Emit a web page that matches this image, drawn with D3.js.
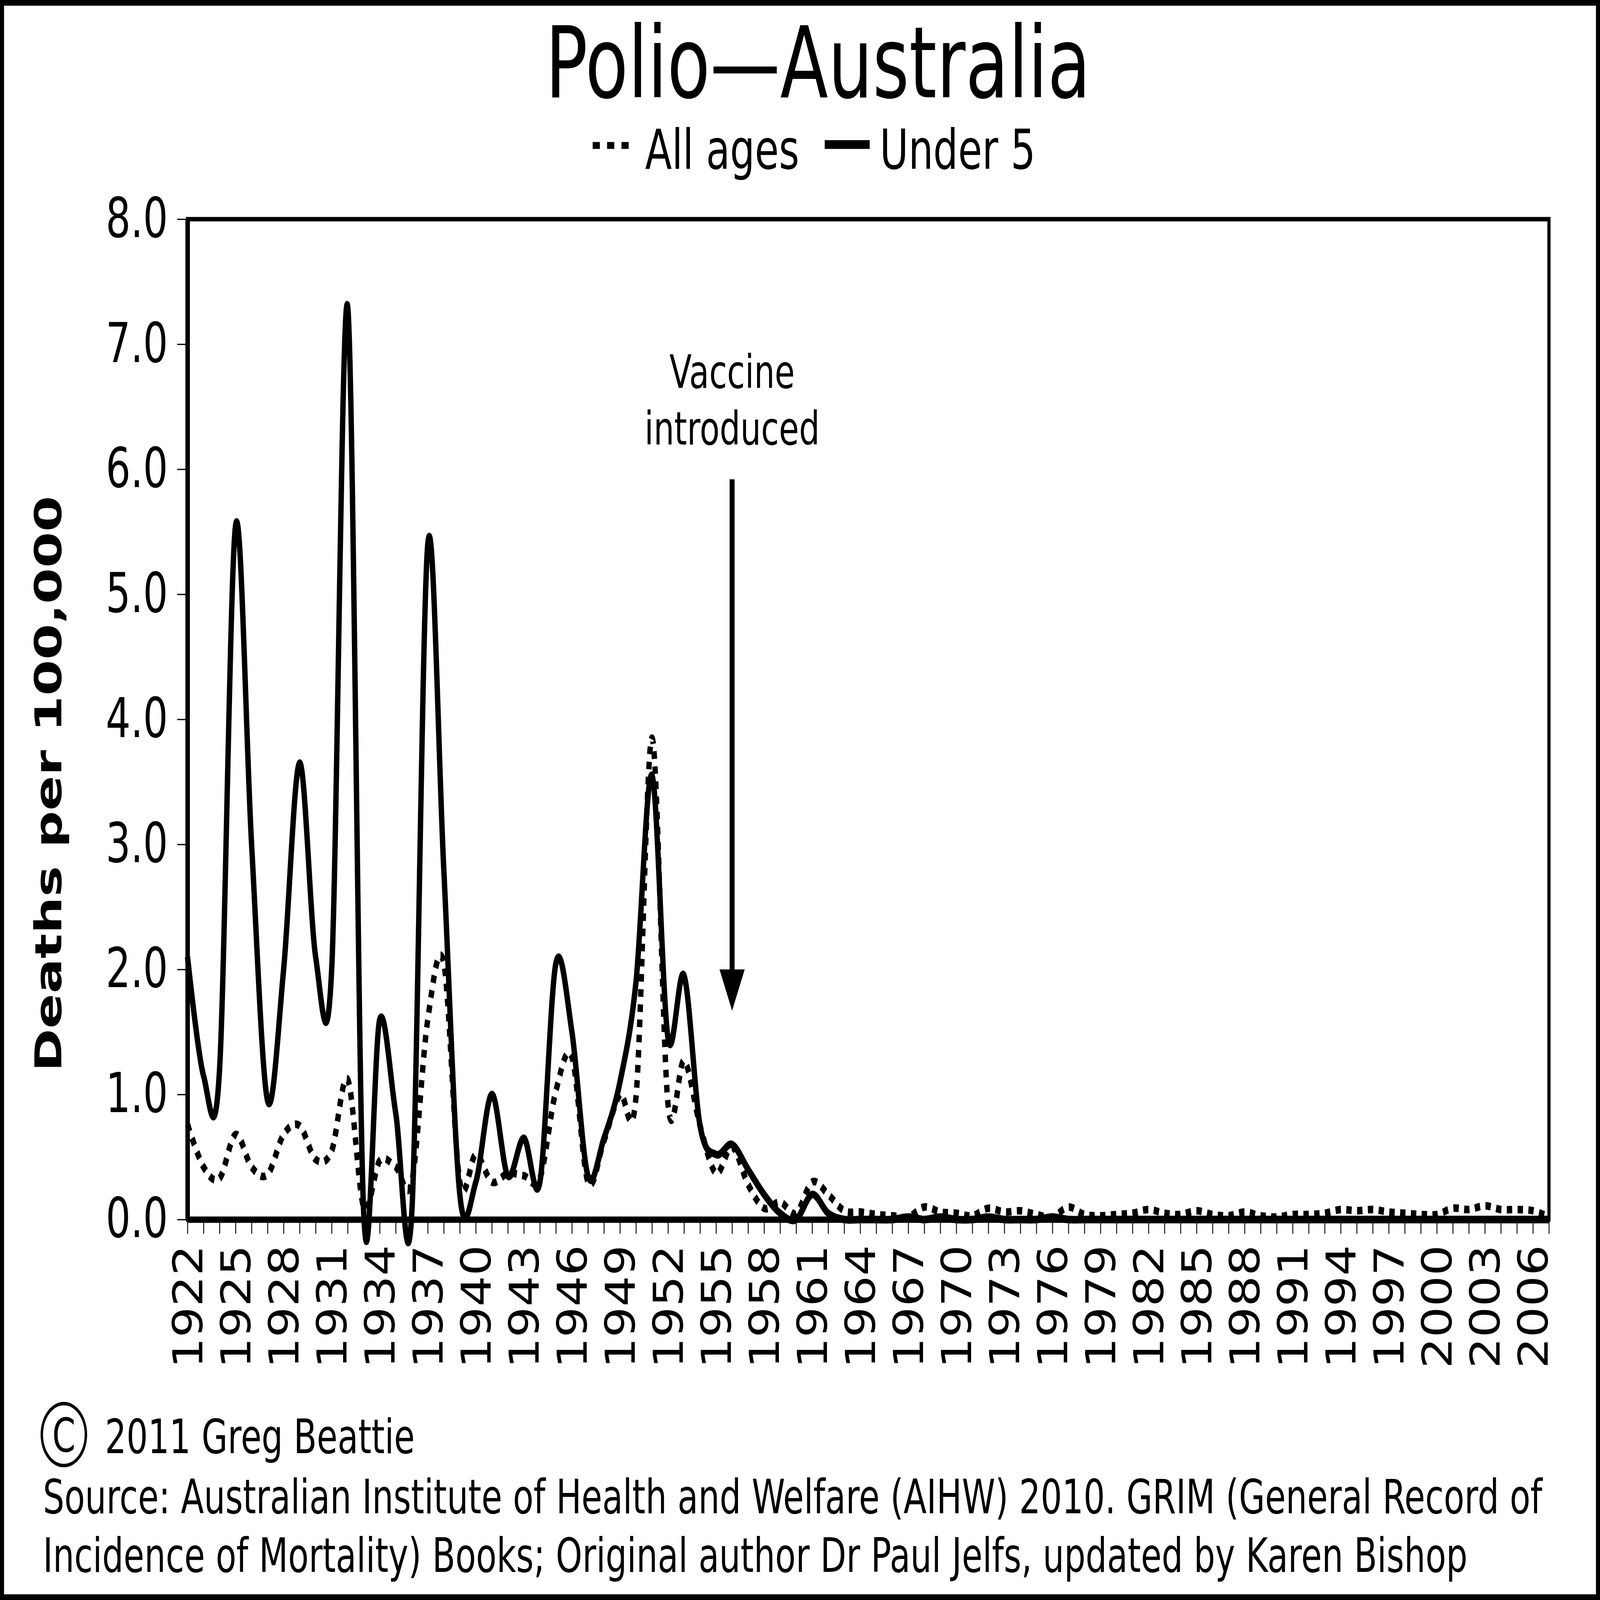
<!DOCTYPE html>
<html>
<head>
<meta charset="utf-8">
<script src="https://d3js.org/d3.v7.min.js"></script>
<style>
html, body { margin: 0; padding: 0; background: white; overflow: hidden; }
#chart { display: block; width: 100vw; height: 100vh; }
svg text { font-family: 'DejaVu Sans', Verdana, sans-serif; fill: #000; }
</style>
</head>
<body>
<svg id="chart" viewBox="0 0 7116 5059" preserveAspectRatio="none"></svg>
<script>
// deaths per 100,000, one value per year 1922..2007
const years = d3.range(1922, 2008);

const allAges = [
  0.76, 0.42, 0.33, 0.68, 0.42, 0.36, 0.68, 0.75, 0.48, 0.55,   // 1922-1931
  1.12, 0.10, 0.47, 0.42, 0.30, 1.60, 2.05, 0.30, 0.52, 0.30,   // 1932-1941
  0.37, 0.35, 0.33, 1.03, 1.30, 0.30, 0.63, 1.00, 0.98, 3.85,   // 1942-1951
  0.92, 1.27, 0.75, 0.37, 0.58, 0.28, 0.09, 0.14, 0.05, 0.30,   // 1952-1961
  0.20, 0.07, 0.06, 0.04, 0.03, 0.02, 0.10, 0.06, 0.05, 0.03,   // 1962-1971
  0.09, 0.06, 0.07, 0.04, 0.02, 0.10, 0.04, 0.03, 0.04, 0.05,   // 1972-1981
  0.08, 0.05, 0.04, 0.07, 0.04, 0.03, 0.06, 0.03, 0.02, 0.04,   // 1982-1991
  0.04, 0.05, 0.08, 0.07, 0.08, 0.06, 0.05, 0.04, 0.04, 0.09,   // 1992-2001
  0.08, 0.11, 0.08, 0.08, 0.07, 0.02                            // 2002-2007
];

const under5 = [
  2.10, 1.15, 1.20, 5.55, 3.00, 0.95, 2.00, 3.65, 2.10, 2.00,   // 1922-1931
  7.30, 0.05, 1.60, 0.85, 0.05, 5.40, 2.80, 0.20, 0.30, 1.00,   // 1932-1941
  0.35, 0.65, 0.30, 2.05, 1.50, 0.35, 0.65, 1.10, 1.90, 3.55,   // 1942-1951
  1.45, 1.95, 0.75, 0.52, 0.60, 0.40, 0.20, 0.05, 0.00, 0.20,   // 1952-1961
  0.05, 0.00, 0.00, 0.00, 0.00, 0.02, 0.00, 0.02, 0.00, 0.00,   // 1962-1971
  0.02, 0.00, 0.00, 0.00, 0.02, 0.00, 0.00, 0.00, 0.00, 0.00,   // 1972-1981
  0.00, 0.00, 0.00, 0.00, 0.00, 0.00, 0.00, 0.00, 0.00, 0.00,   // 1982-1991
  0.00, 0.00, 0.00, 0.00, 0.00, 0.00, 0.00, 0.00, 0.00, 0.00,   // 1992-2001
  0.00, 0.00, 0.00, 0.00, 0.00, 0.00                            // 2002-2007
];

const yTicks = [0, 1, 2, 3, 4, 5, 6, 7, 8];
const xLabelYears = [1922, 1925, 1928, 1931, 1934, 1937, 1940, 1943, 1946, 1949,
  1952, 1955, 1958, 1961, 1964, 1967, 1970, 1973, 1976, 1979, 1982, 1985, 1988,
  1991, 1994, 1997, 2000, 2003, 2006];

const vaccineYear = 1956;
const sourceLines = [
  "Source: Australian Institute of Health and Welfare (AIHW) 2010. GRIM (General Record of",
  "Incidence of Mortality) Books; Original author Dr Paul Jelfs, updated by Karen Bishop"
];

const W = 7116, H = 5059;
const plotLeft = 834, plotRight = 6889, plotTop = 693, plotBottom = 3856;

const svg = d3.select('#chart');

// white page with black frame
svg.append('rect')
  .attr('x', 9).attr('y', 9)
  .attr('width', W - 18).attr('height', H - 18)
  .attr('fill', 'white')
  .attr('stroke', 'black')
  .attr('stroke-width', 18);

const x = d3.scaleLinear().domain([1922, 2007]).range([plotLeft, plotRight]);
const y = d3.scaleLinear().domain([0, 8]).range([plotBottom, plotTop]);

// plot frame
svg.append('rect')
  .attr('x', plotLeft).attr('y', plotTop)
  .attr('width', plotRight - plotLeft).attr('height', plotBottom - plotTop)
  .attr('fill', 'none')
  .attr('stroke', 'black')
  .attr('stroke-width', 14);

// y axis
const yAxis = svg.append('g')
  .attr('transform', 'translate(' + plotLeft + ',0)')
  .call(d3.axisLeft(y).tickValues(yTicks).tickFormat(d3.format('.1f'))
    .tickSize(46).tickSizeOuter(0).tickPadding(41));
yAxis.select('.domain').attr('stroke-width', 20);
yAxis.selectAll('.tick line').attr('stroke-width', 4);
yAxis.selectAll('text')
  .attr('font-size', 174)
  .attr('font-family', "'DejaVu Sans', Verdana, sans-serif")
  .attr('fill', '#111');

// x axis: a tick every year, labels every third year
const xAxis = svg.append('g')
  .attr('transform', 'translate(0,' + plotBottom + ')')
  .call(d3.axisBottom(x).tickValues(years).tickFormat('')
    .tickSize(45).tickSizeOuter(0));
xAxis.select('.domain').attr('stroke-width', 20);
xAxis.selectAll('.tick line').attr('stroke-width', 4);

svg.append('g')
  .selectAll('text')
  .data(xLabelYears)
  .enter()
  .append('text')
  .attr('transform', d => 'translate(' + x(d) + ',' + (plotBottom + 80) + ') rotate(-90)')
  .attr('text-anchor', 'end')
  .attr('dy', '0.36em')
  .attr('font-size', 182)
  .attr('textLength', 391)
  .attr('lengthAdjust', 'spacingAndGlyphs')
  .attr('fill', '#111')
  .text(d => d);

// y axis title
svg.append('text')
  .attr('transform', 'translate(272,2478) rotate(-90)')
  .attr('text-anchor', 'middle')
  .attr('font-size', 164)
  .attr('font-weight', 'bold')
  .text('Deaths per 100,000');

// series lines
const line = d3.line()
  .x((d, i) => x(years[i]))
  .y(d => y(d))
  .curve(d3.curveCardinal.tension(0));

svg.append('path')
  .datum(allAges)
  .attr('d', line)
  .attr('fill', 'none')
  .attr('stroke', 'black')
  .attr('stroke-width', 24)
  .attr('stroke-dasharray', '24,24');

svg.append('path')
  .datum(under5)
  .attr('d', line)
  .attr('fill', 'none')
  .attr('stroke', 'black')
  .attr('stroke-width', 24)
  .attr('stroke-linejoin', 'round');

// vaccine annotation
const vx = x(vaccineYear);
svg.append('text')
  .attr('x', vx).attr('y', 1226)
  .attr('text-anchor', 'middle')
  .attr('font-size', 145)
  .text('Vaccine');
svg.append('text')
  .attr('x', vx).attr('y', 1406)
  .attr('text-anchor', 'middle')
  .attr('font-size', 145)
  .text('introduced');
svg.append('line')
  .attr('x1', vx).attr('x2', vx)
  .attr('y1', y(5.92)).attr('y2', y(1.9))
  .attr('stroke', 'black')
  .attr('stroke-width', 22);
svg.append('path')
  .attr('d', 'M' + (vx - 56) + ',' + y(2.0) + 'L' + (vx + 56) + ',' + y(2.0) +
    'L' + vx + ',' + y(1.67) + 'Z')
  .attr('fill', 'black');

// title + legend
svg.append('text')
  .attr('x', 3638).attr('y', 308)
  .attr('text-anchor', 'middle')
  .attr('font-size', 312)
  .text('Polio\u2014Australia');

svg.append('line')
  .attr('x1', 2636).attr('x2', 2800)
  .attr('y1', 460).attr('y2', 460)
  .attr('stroke', 'black')
  .attr('stroke-width', 22)
  .attr('stroke-dasharray', '32,32');
svg.append('text')
  .attr('x', 2869).attr('y', 533)
  .attr('font-size', 174)
  .text('All ages');

svg.append('line')
  .attr('x1', 3668).attr('x2', 3868)
  .attr('y1', 457).attr('y2', 457)
  .attr('stroke', 'black')
  .attr('stroke-width', 28);
svg.append('text')
  .attr('x', 3913).attr('y', 533)
  .attr('font-size', 174)
  .text('Under 5');

// footer
svg.append('circle')
  .attr('cx', 284).attr('cy', 4536).attr('r', 98)
  .attr('fill', 'none')
  .attr('stroke', 'black')
  .attr('stroke-width', 11);
svg.append('text')
  .attr('x', 284).attr('y', 4536)
  .attr('dy', '0.36em')
  .attr('text-anchor', 'middle')
  .attr('font-size', 148)
  .text('C');
svg.append('text')
  .attr('x', 467).attr('y', 4595)
  .attr('font-size', 150)
  .text('2011 Greg Beattie');

svg.append('g')
  .selectAll('text')
  .data(sourceLines)
  .enter()
  .append('text')
  .attr('x', 191)
  .attr('y', (d, i) => 4785 + i * 185)
  .attr('font-size', 150)
  .text(d => d);
</script>
</body>
</html>
